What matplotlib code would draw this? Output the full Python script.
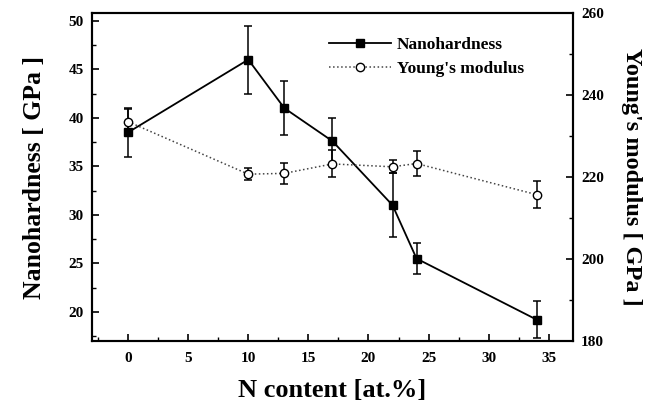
import matplotlib.pyplot as plt
from matplotlib.lines import Line2D
from matplotlib.ticker import MultipleLocator

# N content [at.%]
n_content = [0, 10, 13, 17, 22, 24, 34]

# Nanohardness [GPa] with error
hardness = [38.5, 46.0, 41.0, 37.6, 31.0, 25.5, 19.2]
hardness_err = [2.5, 3.5, 2.8, 2.4, 3.3, 1.6, 1.9]

# Young's modulus [GPa] with error
modulus = [233.5, 220.7, 220.9, 223.2, 222.5, 223.3, 215.7]
modulus_err = [3.0, 1.5, 2.5, 3.3, 1.6, 3.0, 3.3]

plt.rcParams['font.family'] = ['Liberation Serif', 'DejaVu Serif']
plt.rcParams['font.weight'] = 'bold'

fig = plt.figure(figsize=(6.48, 4.07), dpi=100)
ax = fig.add_axes([0.142, 0.162, 0.742, 0.806])
ax2 = ax.twinx()

ax.errorbar(n_content, hardness, yerr=hardness_err, color='black', lw=1.3,
            marker='s', ms=6, capsize=3, elinewidth=1.1, capthick=1.1,
            zorder=3)
ax2.errorbar(n_content, modulus, yerr=modulus_err, color='#444444', lw=1.1,
             ls=':', marker='o', ms=6, mfc='white', mec='black',
             capsize=3, elinewidth=1.1, capthick=1.1, ecolor='black',
             zorder=2)

ax.set_xlim(-3, 37)
ax.set_ylim(17, 50.8)
ax2.set_ylim(180, 260)

ax.xaxis.set_major_locator(MultipleLocator(5))
ax.xaxis.set_minor_locator(MultipleLocator(2.5))
ax.yaxis.set_major_locator(MultipleLocator(5))
ax.yaxis.set_minor_locator(MultipleLocator(2.5))
ax2.yaxis.set_major_locator(MultipleLocator(20))
ax2.yaxis.set_minor_locator(MultipleLocator(10))

for a in (ax, ax2):
    a.tick_params(which='major', direction='in', length=5, width=1.2,
                  labelsize=11, pad=6)
    a.tick_params(which='minor', direction='in', length=3, width=1.0)
    for s in a.spines.values():
        s.set_linewidth(1.5)
ax.tick_params(top=False, right=False)
ax.tick_params(which='minor', top=False, right=False)
ax.tick_params(axis='x', pad=8)

ax.set_xlabel('N content [at.%]', fontsize=19, fontweight='bold', labelpad=10)
ax.set_ylabel('Nanohardness [ GPa ]', fontsize=18.5, fontweight='bold',
              labelpad=16)
ax2.set_ylabel("Young's modulus [ GPa ]", fontsize=17.5, fontweight='bold',
               rotation=270, labelpad=27)

handles = [
    Line2D([], [], color='black', lw=1.3, marker='s', ms=6),
    Line2D([], [], color='#444444', lw=1.1, ls=':', marker='o', ms=6,
           mfc='white', mec='black'),
]
ax.legend(handles, ['Nanohardness', "Young's modulus"], loc='upper left',
          bbox_to_anchor=(0.46, 0.975), frameon=False, fontsize=12.5,
          handlelength=3.6, handletextpad=0.3, labelspacing=0.45)

fig.savefig('out.png', dpi=100)
